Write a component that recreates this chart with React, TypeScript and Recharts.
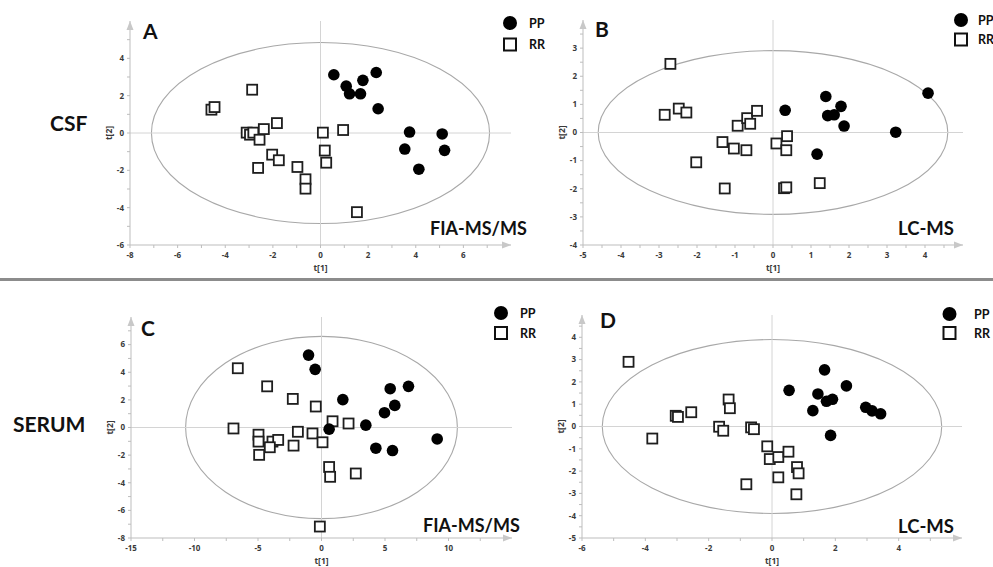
import {
  ScatterChart,
  Scatter,
  XAxis,
  YAxis,
  ReferenceLine,
  ReferenceArea,
  ReferenceDot,
} from "recharts";

type Pt = [number, number];

// A: CSF, FIA-MS/MS
const csfFiaPP: Pt[] = [
  [0.56, 3.12], [1.08, 2.51], [1.22, 2.1], [1.68, 2.1], [1.78, 2.82], [2.34, 3.24],
  [2.42, 1.3], [3.74, 0.05], [3.54, -0.86], [4.13, -1.94], [5.11, -0.05], [5.21, -0.93],
];
const csfFiaRR: Pt[] = [
  [-4.58, 1.25], [-4.45, 1.39], [-2.87, 2.32], [-3.1, 0.02], [-2.96, -0.09], [-2.82, 0.02],
  [-2.56, -0.36], [-2.38, 0.21], [-1.83, 0.53], [-2.03, -1.16], [-1.75, -1.46], [-2.62, -1.87],
  [-0.97, -1.82], [-0.63, -2.48], [-0.63, -2.98], [0.1, 0.02], [0.18, -0.94], [0.24, -1.59],
  [0.95, 0.16], [1.53, -4.24],
];

// B: CSF, LC-MS
const csfLcPP: Pt[] = [
  [0.32, 0.79], [1.39, 1.28], [1.44, 0.6], [1.61, 0.63], [1.79, 0.93], [1.87, 0.23],
  [1.16, -0.77], [3.23, 0.01], [4.08, 1.4],
];
const csfLcRR: Pt[] = [
  [-2.7, 2.44], [-2.85, 0.63], [-2.48, 0.85], [-2.28, 0.71], [-0.93, 0.24], [-0.68, 0.51],
  [-0.6, 0.31], [-0.42, 0.77], [-1.33, -0.34], [-1.03, -0.57], [-0.7, -0.63], [-2.02, -1.06],
  [-1.27, -1.99], [0.09, -0.39], [0.37, -0.13], [0.35, -0.63], [0.29, -1.98], [0.35, -1.95],
  [1.23, -1.8],
];

// C: serum, FIA-MS/MS
const serumFiaPP: Pt[] = [
  [-1.02, 5.24], [-0.5, 4.21], [1.68, 2.02], [0.6, -0.12], [3.49, 0.17], [4.28, -1.5],
  [5.41, 2.81], [6.85, 2.98], [5.77, 1.6], [4.96, 1.07], [5.59, -1.67], [9.11, -0.83],
];
const serumFiaRR: Pt[] = [
  [-6.59, 4.29], [-4.28, 2.98], [-2.26, 2.07], [-0.45, 1.52], [0.87, 0.45], [2.13, 0.29],
  [-6.93, -0.07], [-4.96, -0.52], [-4.96, -1.02], [-3.86, -1.02], [-3.41, -0.9], [-4.07, -1.43],
  [-4.91, -1.98], [-2.2, -1.31], [-1.86, -0.31], [-0.71, -0.43], [0.08, -1.07], [0.6, -2.86],
  [0.68, -3.57], [2.7, -3.33], [-0.13, -7.17],
];

// D: serum, LC-MS
const serumLcPP: Pt[] = [
  [0.54, 1.62], [1.66, 2.54], [2.35, 1.82], [1.45, 1.46], [1.72, 1.13], [1.91, 1.22],
  [1.29, 0.71], [2.96, 0.86], [3.16, 0.7], [3.43, 0.57], [1.85, -0.4],
];
const serumLcRR: Pt[] = [
  [-4.53, 2.9], [-3.04, 0.48], [-2.97, 0.43], [-2.55, 0.64], [-3.78, -0.54], [-1.37, 1.21],
  [-1.33, 0.82], [-1.67, -0.01], [-1.54, -0.19], [-0.66, -0.04], [-0.57, -0.12], [-0.15, -0.89],
  [-0.07, -1.46], [0.2, -1.37], [0.52, -1.13], [0.79, -1.82], [0.84, -2.1], [0.2, -2.28],
  [-0.81, -2.59], [0.77, -3.04],
];

// confidence ellipse half-widths [t1, t2]
const ellipseA: Pt = [7.1, 4.85];
const ellipseB: Pt = [4.6, 2.91];
const ellipseC: Pt = [10.7, 6.6];
const ellipseD: Pt = [5.36, 3.9];

// ticks (all marks) and the ones that carry a label
const xTicksA = [-8, -7, -6, -5, -4, -3, -2, -1, 0, 1, 2, 3, 4, 5, 6, 7];
const xLabelsA = [-8, -6, -4, -2, 0, 2, 4, 6];
const yTicksA = [-6, -5, -4, -3, -2, -1, 0, 1, 2, 3, 4, 5];
const yLabelsA = [-6, -4, -2, 0, 2, 4];

const xTicksB = [-5, -4.5, -4, -3.5, -3, -2.5, -2, -1.5, -1, -0.5, 0, 0.5, 1, 1.5, 2, 2.5, 3, 3.5, 4, 4.5];
const xLabelsB = [-5, -4, -3, -2, -1, 0, 1, 2, 3, 4];
const yTicksB = [-4, -3.5, -3, -2.5, -2, -1.5, -1, -0.5, 0, 0.5, 1, 1.5, 2, 2.5, 3, 3.5];
const yLabelsB = [-4, -3, -2, -1, 0, 1, 2, 3];

const xTicksC = [-15, -12.5, -10, -7.5, -5, -2.5, 0, 2.5, 5, 7.5, 10, 12.5];
const xLabelsC = [-15, -10, -5, 0, 5, 10];
const yTicksC = [-8, -7, -6, -5, -4, -3, -2, -1, 0, 1, 2, 3, 4, 5, 6, 7];
const yLabelsC = [-8, -6, -4, -2, 0, 2, 4, 6];

const xTicksD = [-6, -5, -4, -3, -2, -1, 0, 1, 2, 3, 4, 5];
const xLabelsD = [-6, -4, -2, 0, 2, 4];
const yTicksD = [-5, -4.5, -4, -3.5, -3, -2.5, -2, -1.5, -1, -0.5, 0, 0.5, 1, 1.5, 2, 2.5, 3, 3.5, 4, 4.5];
const yLabelsD = [-5, -4, -3, -2, -1, 0, 1, 2, 3, 4];

const AXIS = "#bdbdbd";
const tickFont = { fontSize: 8, fontWeight: 700, fill: "#3a3a3a", fontFamily: "Open Sans" };
const titleFont = "Lato, 'Open Sans', sans-serif";

const Dot = (p: any) => <circle cx={p.cx} cy={p.cy} r={5.8} fill="#000" />;
const Box = (p: any) => (
  <rect x={p.cx - 5} y={p.cy - 5} width={10} height={10} fill="#fff" stroke="#1e1e1e" strokeWidth={1.8} />
);

type PanelProps = {
  left: number;
  top: number;
  plotW: number;
  plotH: number;
  xDomain: [number, number];
  yDomain: [number, number];
  xTicks: number[];
  xLabels: number[];
  yTicks: number[];
  yLabels: number[];
  pp: Pt[];
  rr: Pt[];
  ellipse: Pt;
};

function Panel({ left, top, plotW, plotH, xDomain, yDomain, xTicks, xLabels, yTicks, yLabels, pp, rr, ellipse }: PanelProps) {
  const ml = 40;
  const mt = 12;
  const mr = 12;
  const mb = 36;
  const toData = (pts: Pt[]) => pts.map(([x, y]) => ({ x, y }));

  return (
    <div style={{ position: "absolute", left: left - ml, top: top - mt }}>
      <ScatterChart
        width={plotW + ml + mr}
        height={plotH + mt + mb}
        margin={{ top: mt, right: mr, left: 10, bottom: 0 }}
      >
        <XAxis
          type="number"
          dataKey="x"
          domain={xDomain}
          ticks={xTicks}
          interval={0}
          allowDataOverflow
          height={mb}
          tickFormatter={(v: number) => (xLabels.includes(v) ? String(v) : "")}
          axisLine={{ stroke: AXIS }}
          tickLine={{ stroke: AXIS }}
          tickSize={3}
          tickMargin={4}
          tick={tickFont}
        />
        <YAxis
          type="number"
          dataKey="y"
          domain={yDomain}
          ticks={yTicks}
          interval={0}
          allowDataOverflow
          width={30}
          tickFormatter={(v: number) => (yLabels.includes(v) ? String(v) : "")}
          axisLine={{ stroke: AXIS }}
          tickLine={{ stroke: AXIS }}
          tickSize={3}
          tickMargin={3}
          tick={tickFont}
        />
        <ReferenceLine x={0} stroke="#d4d4d4" strokeWidth={1} />
        <ReferenceLine y={0} stroke="#d4d4d4" strokeWidth={1} />
        <ReferenceArea
          x1={-ellipse[0]}
          x2={ellipse[0]}
          y1={-ellipse[1]}
          y2={ellipse[1]}
          shape={(p: any) => (
            <ellipse
              cx={p.x + p.width / 2}
              cy={p.y + p.height / 2}
              rx={Math.abs(p.width) / 2}
              ry={Math.abs(p.height) / 2}
              fill="none"
              stroke="#a8a8a8"
              strokeWidth={1.1}
            />
          )}
        />
        <ReferenceDot
          x={xDomain[1]}
          y={yDomain[0]}
          ifOverflow="visible"
          shape={(p: any) => (
            <path d={`M${p.cx},${p.cy} l-9,-3.5 l0,7 z`} fill="#c8c8c8" />
          )}
        />
        <ReferenceDot
          x={xDomain[0]}
          y={yDomain[1]}
          ifOverflow="visible"
          shape={(p: any) => (
            <path d={`M${p.cx},${p.cy} l-3.5,9 l7,0 z`} fill="#c8c8c8" />
          )}
        />
        <Scatter name="RR" data={toData(rr)} shape={Box} isAnimationActive={false} />
        <Scatter name="PP" data={toData(pp)} shape={Dot} isAnimationActive={false} />
      </ScatterChart>
      <svg
        width={plotW + ml + mr}
        height={plotH + mt + mb}
        style={{ position: "absolute", left: 0, top: 0, pointerEvents: "none" }}
      >
        <text
          x={ml + plotW / 2}
          y={mt + plotH + 26}
          textAnchor="middle"
          fontSize={8.5}
          fontWeight={700}
          fill="#3a3a3a"
          fontFamily="Open Sans"
        >
          t[1]
        </text>
        <text
          transform={`translate(${ml - 18},${mt + plotH / 2}) rotate(-90)`}
          textAnchor="middle"
          fontSize={8.5}
          fontWeight={700}
          fill="#3a3a3a"
          fontFamily="Open Sans"
        >
          t[2]
        </text>
      </svg>
    </div>
  );
}

function Legend({ cx, cyTop, cyBottom, tx }: { cx: number; cyTop: number; cyBottom: number; tx: number }) {
  return (
    <g>
      <circle cx={cx} cy={cyTop} r={7} fill="#000" />
      <text x={tx} y={cyTop + 4.5} fontSize={12.5} fontWeight={700} fontFamily={titleFont} fill="#111">
        PP
      </text>
      <rect x={cx - 6} y={cyBottom - 6} width={12} height={12} fill="#fff" stroke="#111" strokeWidth={2} />
      <text x={tx} y={cyBottom + 4.5} fontSize={12.5} fontWeight={700} fontFamily={titleFont} fill="#111">
        RR
      </text>
    </g>
  );
}

export default function App() {
  return (
    <div style={{ position: "absolute", left: 0, top: 0, width: 993, height: 567, background: "#fff", overflow: "hidden" }}>
      <Panel left={130} top={21} plotW={381} plotH={224} xDomain={[-8, 8]} yDomain={[-6, 6]}
        xTicks={xTicksA} xLabels={xLabelsA} yTicks={yTicksA} yLabels={yLabelsA}
        pp={csfFiaPP} rr={csfFiaRR} ellipse={ellipseA} />
      <Panel left={583} top={20} plotW={380} plotH={225} xDomain={[-5, 5]} yDomain={[-4, 4]}
        xTicks={xTicksB} xLabels={xLabelsB} yTicks={yTicksB} yLabels={yLabelsB}
        pp={csfLcPP} rr={csfLcRR} ellipse={ellipseB} />
      <Panel left={131} top={317} plotW={381} plotH={221} xDomain={[-15, 15]} yDomain={[-8, 8]}
        xTicks={xTicksC} xLabels={xLabelsC} yTicks={yTicksC} yLabels={yLabelsC}
        pp={serumFiaPP} rr={serumFiaRR} ellipse={ellipseC} />
      <Panel left={582} top={315} plotW={380} plotH={223} xDomain={[-6, 6]} yDomain={[-5, 5]}
        xTicks={xTicksD} xLabels={xLabelsD} yTicks={yTicksD} yLabels={yLabelsD}
        pp={serumLcPP} rr={serumLcRR} ellipse={ellipseD} />

      <div style={{ position: "absolute", left: 0, top: 278, width: 993, height: 3, background: "#8c8c8c" }} />

      <svg width={993} height={567} style={{ position: "absolute", left: 0, top: 0, pointerEvents: "none" }}>
        <g fontFamily={titleFont} fontWeight={700} fill="#111">
          <text x={143} y={39} fontSize={21}>A</text>
          <text x={595} y={37} fontSize={21}>B</text>
          <text x={141} y={336} fontSize={21}>C</text>
          <text x={600} y={328} fontSize={21}>D</text>

          <text x={50} y={131} fontSize={21}>CSF</text>
          <text x={13} y={432} fontSize={21}>SERUM</text>

          <text x={430} y={235} fontSize={18}>FIA-MS/MS</text>
          <text x={898} y={235} fontSize={18.5}>LC-MS</text>
          <text x={423} y={532} fontSize={18}>FIA-MS/MS</text>
          <text x={898} y={533} fontSize={18.5}>LC-MS</text>
        </g>
        <Legend cx={510} cyTop={23} cyBottom={44.5} tx={529} />
        <Legend cx={961} cyTop={20} cyBottom={39.5} tx={978} />
        <Legend cx={501} cyTop={313} cyBottom={333} tx={520} />
        <Legend cx={949.5} cyTop={314} cyBottom={333} tx={974} />
      </svg>
    </div>
  );
}
